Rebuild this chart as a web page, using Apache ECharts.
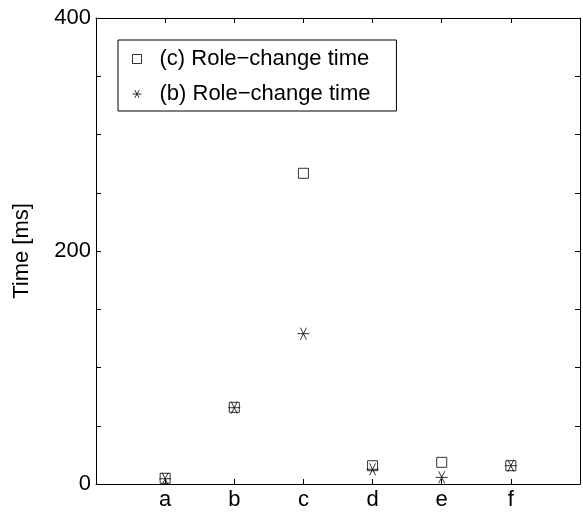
<!DOCTYPE html>
<html>
<head>
<meta charset="utf-8">
<script src="https://cdn.jsdelivr.net/npm/echarts@6/dist/echarts.min.js"></script>
<style>html,body{margin:0;padding:0;background:#fff}#c{width:583px;height:513px}</style>
</head>
<body>
<div id="c"></div>
<script>
const categories = ['a', 'b', 'c', 'd', 'e', 'f'];
const seriesNames = ['(c) Role\u2212change time', '(b) Role\u2212change time'];
const squareValues = [4.9, 65.8, 266.7, 15.7, 18.6, 15.7];
const starValues = [4.5, 65.5, 129, 12.6, 5.7, 15.7];
const yTickLabels = [0, 200, 400];

const FONT = 'Liberation Sans, Arial, sans-serif';
const FS = 22;
const starPath = 'path://M0,5 L10,5 M2.5,0.67 L7.5,9.33 M7.5,0.67 L2.5,9.33';

function toPairs(vals) { return vals.map((v, i) => [i + 1, v]); }

const axisCommon = {
  axisLine: { show: true, onZero: false, lineStyle: { color: '#000', width: 1 } },
  axisTick: { show: true, inside: true, length: 5, lineStyle: { color: '#000', width: 1 } },
  splitLine: { show: false }
};
const hollow = { color: 'transparent', borderColor: '#000', borderWidth: 1 };

const chart = echarts.init(document.getElementById('c'), null, { renderer: 'canvas' });
chart.setOption({
  animation: false,
  backgroundColor: '#fff',
  textStyle: { fontFamily: FONT },
  grid: { left: 96, right: 2, top: 18, bottom: 29, containLabel: false },
  xAxis: [
    Object.assign({}, axisCommon, {
      type: 'value', min: 0, max: 7, interval: 1, position: 'bottom',
      axisLabel: {
        color: '#000', fontSize: FS, fontFamily: FONT, margin: 5,
        formatter: v => (v >= 1 && v <= categories.length) ? categories[v - 1] : ''
      }
    }),
    Object.assign({}, axisCommon, {
      type: 'value', min: 0, max: 7, interval: 1, position: 'top',
      axisLabel: { show: false }
    })
  ],
  yAxis: [
    Object.assign({}, axisCommon, {
      type: 'value', min: 0, max: 400, interval: 50, position: 'left',
      name: 'Time [ms]', nameLocation: 'middle', nameGap: 63,
      nameTextStyle: { color: '#000', fontSize: FS, fontFamily: FONT },
      axisLabel: {
        color: '#000', fontSize: FS, fontFamily: FONT, margin: 5,
        formatter: v => yTickLabels.indexOf(v) >= 0 ? String(v) : ''
      }
    }),
    Object.assign({}, axisCommon, {
      type: 'value', min: 0, max: 400, interval: 50, position: 'right',
      axisLabel: { show: false }
    })
  ],
  legend: {
    show: true,
    left: 118, top: 40,
    orient: 'vertical',
    borderColor: '#000', borderWidth: 1,
    backgroundColor: '#fff',
    padding: [8, 26, 6, 14],
    itemGap: 13,
    itemWidth: 9, itemHeight: 9,
    itemStyle: hollow,
    textStyle: { color: '#000', fontSize: FS, fontFamily: FONT, padding: [0, 0, 0, 13] },
    data: [
      { name: seriesNames[0], icon: 'rect', itemStyle: hollow },
      { name: seriesNames[1], icon: starPath, itemStyle: hollow }
    ]
  },
  series: [
    {
      name: seriesNames[0], type: 'scatter', xAxisIndex: 0, yAxisIndex: 0,
      symbol: 'rect', symbolSize: 10,
      itemStyle: hollow,
      data: toPairs(squareValues)
    },
    {
      name: seriesNames[1], type: 'scatter', xAxisIndex: 0, yAxisIndex: 0,
      symbol: starPath, symbolSize: 12,
      itemStyle: hollow,
      data: toPairs(starValues)
    }
  ]
});
</script>
</body>
</html>
